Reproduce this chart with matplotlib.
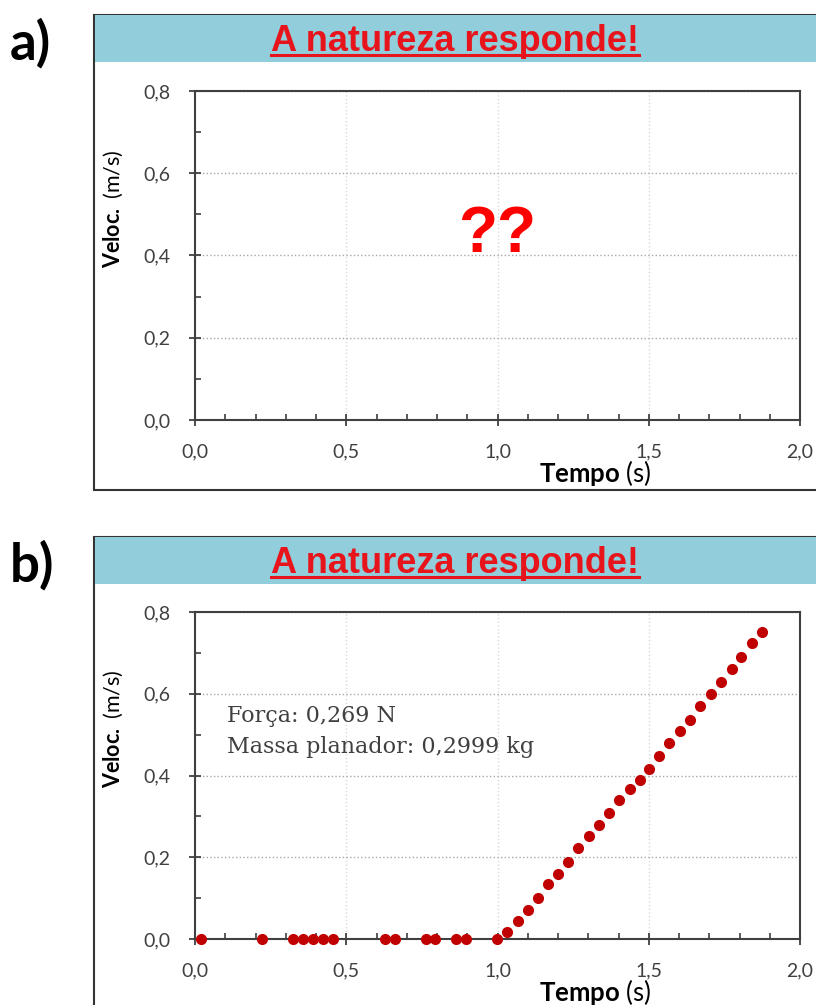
import numpy as np
import matplotlib
matplotlib.use("Agg")
import matplotlib.pyplot as plt
from matplotlib.patches import Rectangle
from matplotlib.lines import Line2D
from matplotlib.ticker import MultipleLocator, FuncFormatter

# measured data (panel b)
tempo = [0.020, 0.222, 0.324, 0.357, 0.390, 0.424, 0.457, 0.627, 0.661, 0.762,
         0.795, 0.863, 0.896, 0.997,
         1.032, 1.067, 1.100, 1.133, 1.167, 1.201, 1.233, 1.266, 1.302, 1.334,
         1.369, 1.403, 1.438, 1.470, 1.500, 1.535, 1.566, 1.602, 1.637, 1.671,
         1.706, 1.738, 1.774, 1.806, 1.841, 1.873]
veloc = [0.0] * 14 + [
         0.016, 0.045, 0.070, 0.101, 0.134, 0.159, 0.189, 0.222, 0.253, 0.280,
         0.309, 0.340, 0.366, 0.390, 0.417, 0.447, 0.479, 0.508, 0.537, 0.571,
         0.600, 0.629, 0.660, 0.691, 0.723, 0.752]

titulo = "A natureza responde!"
info = ["Força: 0,269 N", "Massa planador: 0,2999 kg"]
xticks = [0.0, 0.5, 1.0, 1.5, 2.0]
yticks = [0.0, 0.2, 0.4, 0.6, 0.8]

plt.rcParams['font.family'] = ['Lato', 'DejaVu Sans']
plt.rcParams['mathtext.fontset'] = 'custom'
plt.rcParams['mathtext.rm'] = 'Lato'
plt.rcParams['mathtext.bf'] = 'Lato:bold'

W, H = 816, 1005
fig = plt.figure(figsize=(W / 100, H / 100), dpi=100)

dark = '#404040'
band = '#92CDDC'
red = '#E8141B'


def fx(px):
    return px / W


def fy(py):
    return 1 - py / H


def panel(top, bottom, ax_top, ax_bottom, letter):
    # frame + header band
    fig.patches.append(Rectangle((fx(94), fy(bottom)), fx(900), fy(top) - fy(bottom),
                                 transform=fig.transFigure, facecolor='white',
                                 edgecolor='#333333', lw=1.5, zorder=-3))
    fig.patches.append(Rectangle((fx(95), fy(top + 47)), fx(900), 47 / H,
                                 transform=fig.transFigure, facecolor=band,
                                 edgecolor='none', zorder=-2))
    t = fig.text(fx(455), fy(top + 36), titulo, ha='center', va='baseline',
                 family='Liberation Sans', weight='bold', fontsize=26, color=red, zorder=3)
    fig.text(fx(10), fy(top + 28), letter, ha='left', va='center',
             weight='bold', fontsize=38, color='black')

    ax = fig.add_axes([fx(195), fy(ax_bottom), fx(800) - fx(195), fy(ax_top) - fy(ax_bottom)])
    ax.set_xlim(0, 2.0)
    ax.set_ylim(0, 0.8)
    ax.set_xticks(xticks)
    ax.set_yticks(yticks)
    ax.xaxis.set_minor_locator(MultipleLocator(0.1))
    ax.yaxis.set_minor_locator(MultipleLocator(0.1))
    fmt = FuncFormatter(lambda v, p: f"{v:.1f}".replace('.', ','))
    ax.xaxis.set_major_formatter(fmt)
    ax.yaxis.set_major_formatter(fmt)
    for s in ax.spines.values():
        s.set_color(dark)
        s.set_linewidth(1.5)
    ax.tick_params(which='major', direction='inout', length=9, width=1.3, color=dark,
                   labelsize=14, labelcolor='#404040')
    ax.tick_params(axis='x', which='major', pad=12)
    ax.tick_params(axis='y', which='major', pad=13)
    ax.tick_params(which='minor', direction='in', length=4, width=1.2, color=dark)
    ax.grid(axis='x', which='major', color='#D9D9D9', ls=':', lw=1.0)
    ax.grid(axis='y', which='major', color='#A6A6A6', ls=':', lw=1.0)
    ax.set_axisbelow(True)
    fig.text(fx(113), fy((ax_top + ax_bottom) / 2 - 47), r"$\mathbf{Veloc.}$ (m/s)",
             rotation=90, ha='center', va='center', fontsize=15.5, color='black')
    fig.text(fx(595), fy(ax_bottom + 53), r"$\mathbf{Tempo}$ (s)",
             ha='center', va='center', fontsize=18.5, color='black')
    return ax, t


ax_a, t_a = panel(15, 490, 91, 420, 'a)')
ax_a.text(1.0, 0.45, '??', ha='center', va='center', fontsize=46,
          weight='bold', family='Liberation Sans', color='#FF0000')

ax_b, t_b = panel(537, 1100, 612, 939, 'b)')
ax_b.plot(tempo, veloc, 'o', color='#C00000', ms=7, clip_on=False, zorder=5)
for line, py in zip(info, (716, 747)):
    fig.text(fx(227), fy(py), line, ha='left', va='center', fontsize=16,
             family='DejaVu Serif', color='#404040')

# underline the titles, just under the baseline
fig.canvas.draw()
r = fig.canvas.get_renderer()
for t in (t_a, t_b):
    bb = t.get_window_extent(r).transformed(fig.transFigure.inverted())
    yb = t.get_position()[1] - 4 / H
    fig.add_artist(Line2D([bb.x0, bb.x1], [yb, yb],
                          transform=fig.transFigure, color=red, lw=2.2))

fig.savefig('out.png', dpi=100)
